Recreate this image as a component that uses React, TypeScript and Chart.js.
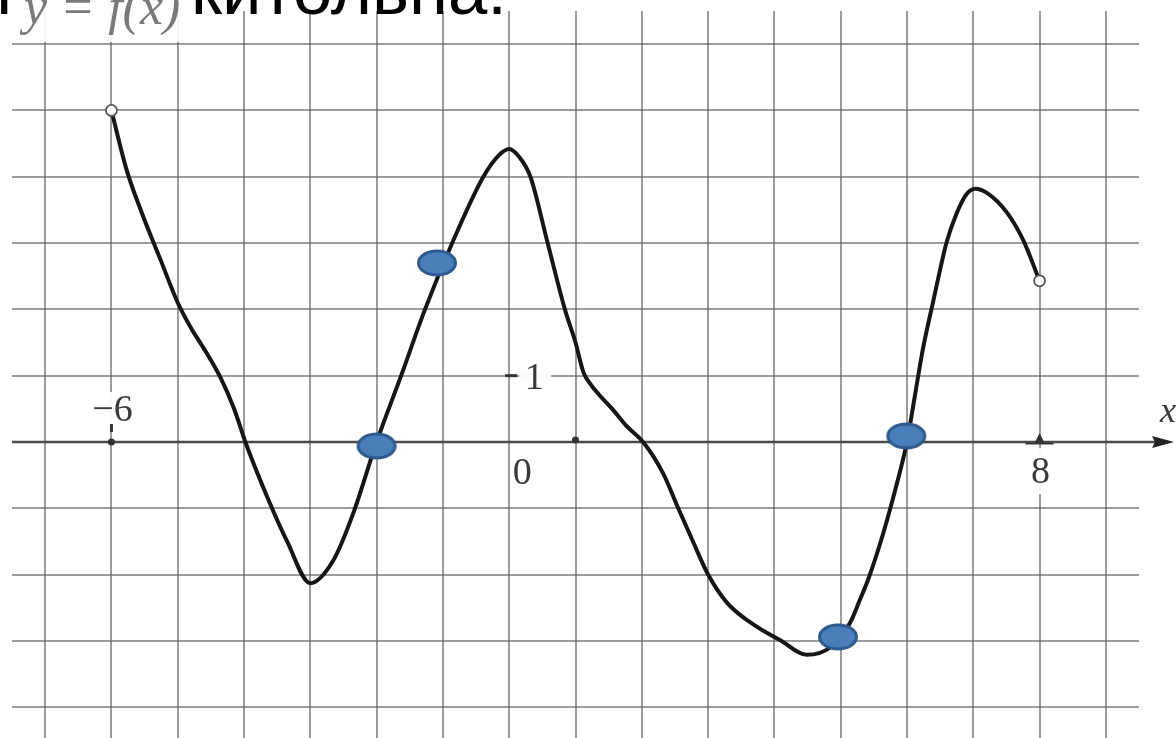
import React, { useEffect, useRef } from "react";
import { Chart, registerables } from "chart.js";

Chart.register(...registerables);

// curve y = f(x)
const curveX = [
  -6.0, -5.77, -5.54, -5.26, -5.0, -4.8, -4.6, -4.36, -4.15, -3.98, -3.65, -3.35, -3.0,
  -2.65, -2.35, -2.0, -1.63, -1.27, -0.86, -0.39, -0.15, 0.0, 0.15, 0.32, 0.58,
  0.84, 1.0, 1.12, 1.22, 1.35, 1.57, 1.78, 2.02, 2.32, 2.55, 2.78, 3.0, 3.29, 3.74, 4.09,
  4.49, 4.84, 5.14, 5.29, 5.42, 5.65, 5.85, 6.0, 6.12, 6.24, 6.4, 6.6, 6.75, 6.9,
  7.03, 7.2, 7.5, 7.75, 8.0,
];
const curveY = [
  5.0, 4.1, 3.45, 2.75, 2.1, 1.72, 1.4, 0.98, 0.5, 0.0, -0.83, -1.5, -2.13,
  -1.78, -1.07, 0.0, 1.0, 2.0, 3.0, 4.0, 4.33, 4.42, 4.3, 4.0, 3.0,
  2.0, 1.5, 1.05, 0.88, 0.72, 0.48, 0.23, 0.0, -0.47, -1.0, -1.52, -2.0, -2.43, -2.79, -2.99,
  -3.21, -3.1, -2.73, -2.38, -2.06, -1.35, -0.62, 0.0, 0.7, 1.4, 2.14, 3.02, 3.45, 3.74,
  3.82, 3.76, 3.47, 3.05, 2.43,
];

// highlighted points (blue ellipses)
const markerX = [-2.0, -1.09, 4.96, 5.99];
const markerY = [-0.06, 2.7, -2.94, 0.09];

// open end points
const endX = [-6, 8];
const endY = [5, 2.43];

// grid values
const gridX = [-7, -6, -5, -4, -3, -2, -1, 0, 1, 2, 3, 4, 5, 6, 7, 8, 9];
const gridY = [-4, -3, -2, -1, 0, 1, 2, 3, 4, 5, 6];

// axis labels
const xLabelValues = [-6, 0, 8];
const xLabelTexts = ["−6", "0", "8"];
const yLabelValues = [1];
const yLabelTexts = ["1"];
const axisName = "x";

const formulaText = "y = f(x)";
const headerLead = "т";
const headerText = "китольна:";

const X_MIN = -7.5;
const X_MAX = 9.5;
const Y_MIN = -4.465;
const Y_MAX = 6.5;

function makeEllipse(): HTMLCanvasElement {
  const c = document.createElement("canvas");
  c.width = 44;
  c.height = 30;
  const g = c.getContext("2d")!;
  g.beginPath();
  g.ellipse(22, 15, 18.5, 12, 0, 0, Math.PI * 2);
  g.fillStyle = "#4A7EBB";
  g.fill();
  g.lineWidth = 3;
  g.strokeStyle = "#2E5A8E";
  g.stroke();
  return c;
}

const decorPlugin = {
  id: "decor",
  beforeDatasetsDraw(chart: any) {
    const ctx: CanvasRenderingContext2D = chart.ctx;
    const xs = chart.scales.x;
    const ys = chart.scales.y;
    const area = chart.chartArea;
    const y0 = ys.getPixelForValue(0);
    const x0 = xs.getPixelForValue(0);
    ctx.save();

    // grid
    ctx.strokeStyle = "rgba(100,100,100,0.64)";
    ctx.lineWidth = 2;
    gridX.forEach((v) => {
      const px = Math.round(xs.getPixelForValue(v));
      ctx.beginPath();
      ctx.moveTo(px, area.top);
      ctx.lineTo(px, area.bottom);
      ctx.stroke();
    });
    gridY.forEach((v) => {
      const py = Math.round(ys.getPixelForValue(v));
      ctx.beginPath();
      ctx.moveTo(area.left, py);
      ctx.lineTo(area.right, py);
      ctx.stroke();
    });

    // white halos behind labels
    ctx.fillStyle = "rgba(255,255,255,0.95)";
    const xm6 = xs.getPixelForValue(-6);
    ctx.fillRect(xm6 - 26, y0 - 50, 54, 36);
    const x8 = xs.getPixelForValue(8);
    ctx.fillRect(x8 - 18, y0 + 6, 36, 46);
    const y1 = ys.getPixelForValue(1);
    ctx.fillRect(x0 + 10, y1 - 20, 32, 38);
    ctx.fillRect(x0 + 2, y0 + 10, 28, 38);

    // x axis line with arrow
    ctx.strokeStyle = "#4a4a4a";
    ctx.lineWidth = 2.5;
    ctx.beginPath();
    ctx.moveTo(area.left, y0);
    ctx.lineTo(1160, y0);
    ctx.stroke();
    ctx.fillStyle = "#222";
    ctx.beginPath();
    ctx.moveTo(1174, y0);
    ctx.lineTo(1152, y0 - 6);
    ctx.lineTo(1155, y0);
    ctx.lineTo(1152, y0 + 6);
    ctx.closePath();
    ctx.fill();

    // small marks on axes
    ctx.fillStyle = "#333";
    ctx.beginPath();
    ctx.arc(xm6, y0, 3.5, 0, Math.PI * 2);
    ctx.fill();
    ctx.fillRect(xm6 - 1.5, y0 - 18, 3, 8);
    const x1 = xs.getPixelForValue(1);
    ctx.beginPath();
    ctx.arc(x1, y0 - 2, 3.5, 0, Math.PI * 2);
    ctx.fill();
    ctx.beginPath();
    ctx.moveTo(x8, y0 - 9);
    ctx.lineTo(x8 - 5, y0 + 1);
    ctx.lineTo(x8 + 5, y0 + 1);
    ctx.closePath();
    ctx.fill();
    ctx.fillRect(x8 - 14, y0 + 1, 28, 1.5);
    ctx.fillRect(x0 - 4, y1 - 1.5, 12, 3);

    // labels
    ctx.fillStyle = "#3a3a3a";
    ctx.font = '38px "Liberation Serif", "DejaVu Serif", serif';
    ctx.textAlign = "center";
    ctx.textBaseline = "alphabetic";
    xLabelValues.forEach((v, i) => {
      const px = xs.getPixelForValue(v);
      if (v < 0) {
        ctx.fillText(xLabelTexts[i], px + 1, y0 - 21);
      } else if (v === 0) {
        ctx.fillText(xLabelTexts[i], px + 13, y0 + 42);
      } else {
        ctx.fillText(xLabelTexts[i], px + 1, y0 + 41);
      }
    });
    yLabelValues.forEach((v, i) => {
      const py = ys.getPixelForValue(v);
      ctx.fillText(yLabelTexts[i], x0 + 25, py + 13);
    });
    ctx.font = 'italic 36px "Liberation Serif", "DejaVu Serif", serif';
    ctx.textAlign = "left";
    ctx.fillText(axisName, 1160, y0 - 20);
    ctx.restore();
  },
  afterDraw(chart: any) {
    const ctx: CanvasRenderingContext2D = chart.ctx;
    ctx.save();
    // formula label box
    ctx.fillStyle = "rgba(255,255,255,0.9)";
    ctx.fillRect(12, 0, 178, 42);
    ctx.fillStyle = "#7a7a7a";
    ctx.font = 'italic 52px "Liberation Serif", "DejaVu Serif", serif';
    ctx.textAlign = "left";
    ctx.textBaseline = "alphabetic";
    ctx.fillText(formulaText, 24, 24);
    // header text (cut off at the top)
    ctx.fillStyle = "#000";
    ctx.font = '100px "Liberation Sans", Arial, sans-serif';
    const w = ctx.measureText(headerText).width;
    const size = (100 * 316) / w;
    ctx.font = `${size}px "Liberation Sans", Arial, sans-serif`;
    ctx.fillText(headerText, 191, 14);
    ctx.fillText(headerLead, -12, 14);
    ctx.restore();
  },
};

export default function App() {
  const ref = useRef<HTMLCanvasElement | null>(null);
  useEffect(() => {
    if (!ref.current) return;
    const ellipse = makeEllipse();
    const chart = new Chart(ref.current, {
      type: "scatter",
      data: {
        datasets: [
          {
            label: "markers",
            data: markerX.map((x, i) => ({ x, y: markerY[i] })),
            pointStyle: ellipse as any,
            pointRadius: 15,
            order: 0,
          } as any,
          {
            label: "ends",
            data: endX.map((x, i) => ({ x, y: endY[i] })),
            pointStyle: "circle",
            pointRadius: 5.5,
            pointBackgroundColor: "#ffffff",
            pointBorderColor: "#555555",
            pointBorderWidth: 1.8,
            order: 1,
          },
          {
            label: "f",
            data: curveX.map((x, i) => ({ x, y: curveY[i] })),
            showLine: true,
            borderColor: "#161616",
            borderWidth: 4,
            pointRadius: 0,
            cubicInterpolationMode: "monotone",
            fill: false,
            order: 2,
          } as any,
        ],
      },
      options: {
        responsive: false,
        animation: false,
        devicePixelRatio: 1,
        layout: { autoPadding: false, padding: { left: 12, right: 37, top: 11, bottom: 0 } },
        plugins: {
          legend: { display: false },
          tooltip: { enabled: false },
          title: { display: false },
        },
        scales: {
          x: { type: "linear", display: false, min: X_MIN, max: X_MAX },
          y: { type: "linear", display: false, min: Y_MIN, max: Y_MAX },
        },
      } as any,
      plugins: [decorPlugin],
    });
    return () => chart.destroy();
  }, []);
  return (
    <div style={{ position: "fixed", left: 0, top: 0, width: 1176, height: 738, background: "#fff" }}>
      <canvas ref={ref} width={1176} height={738} style={{ display: "block" }} />
    </div>
  );
}
